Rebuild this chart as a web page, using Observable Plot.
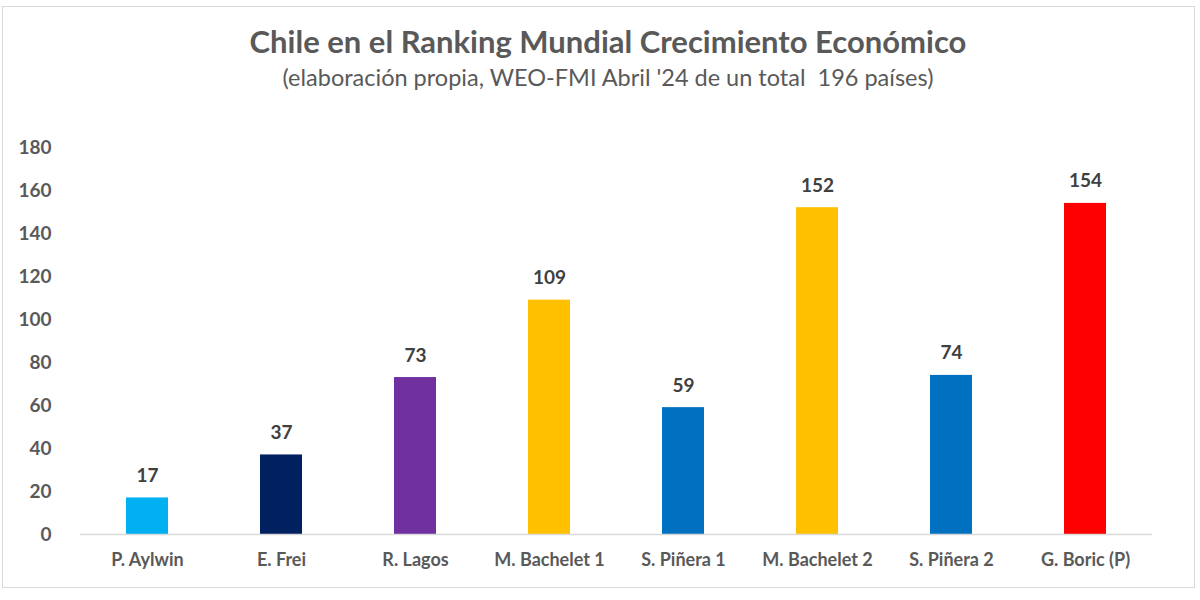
<!DOCTYPE html>
<html><head><meta charset="utf-8">
<script src="https://cdn.jsdelivr.net/npm/d3@7"></script>
<script src="https://cdn.jsdelivr.net/npm/@observablehq/plot@0.6"></script>
<style>
body{margin:0;background:#fff;font-family:Lato,"Open Sans",sans-serif;}
#wrap{position:relative;width:1200px;height:600px;overflow:hidden;}
#frame{position:absolute;left:2px;top:6px;width:1191px;height:580px;border:1.5px solid #d9d9d9;}
#title{position:absolute;top:22px;left:0;width:1216px;text-align:center;font-size:31px;font-weight:700;color:#595959;}
#sub{position:absolute;top:63px;left:0;width:1216px;text-align:center;font-size:23.5px;color:#595959;}
#chart{position:absolute;left:0;top:100px;}
</style></head>
<body>
<div id="wrap">
<div id="frame"></div>
<div id="title">Chile en el Ranking Mundial Crecimiento Económico</div>
<div id="sub">(elaboración propia, WEO-FMI Abril '24 de un total&nbsp; 196 países)</div>
<div id="chart"></div>
</div>
<script>
const presidents = ["P. Aylwin","E. Frei","R. Lagos","M. Bachelet 1","S. Piñera 1","M. Bachelet 2","S. Piñera 2","G. Boric (P)"];
const ranks = [17,37,73,109,59,152,74,154];
const colors = ["#00B0F0","#002060","#7030A0","#FFC000","#0070C0","#FFC000","#0070C0","#FF0000"];
const yTicks = [0,20,40,60,80,100,120,140,160,180];

const data = presidents.map((p,i)=>({p, v:ranks[i], c:colors[i]}));

const chart = Plot.plot({
  width:1200, height:480,
  marginLeft:80, marginRight:48, marginTop:47, marginBottom:46,
  style:{fontFamily:"Lato, 'Open Sans', sans-serif", background:"transparent"},
  x:{domain:presidents, paddingInner:0.687, paddingOuter:0.3435, label:null},
  y:{domain:[0,180], ticks:yTicks, label:null},
  marks:[
    Plot.barY(data,{x:"p", y:"v", fill:"c"}),
    Plot.ruleY([0],{stroke:"#d9d9d9", strokeWidth:1.5}),
    Plot.text(data,{x:"p", y:"v", text:d=>String(d.v), dy:-22, fill:"#404040", fontSize:19, fontWeight:700}),
    Plot.axisX({tickSize:0, tickPadding:19, fontSize:18, fontWeight:700, fill:"#595959", label:null}),
    Plot.axisY({ticks:yTicks, tickSize:0, tickPadding:29, fontSize:19, fontWeight:700, fill:"#595959", label:null})
  ]
});
document.getElementById("chart").appendChild(chart);
</script>
</body></html>
